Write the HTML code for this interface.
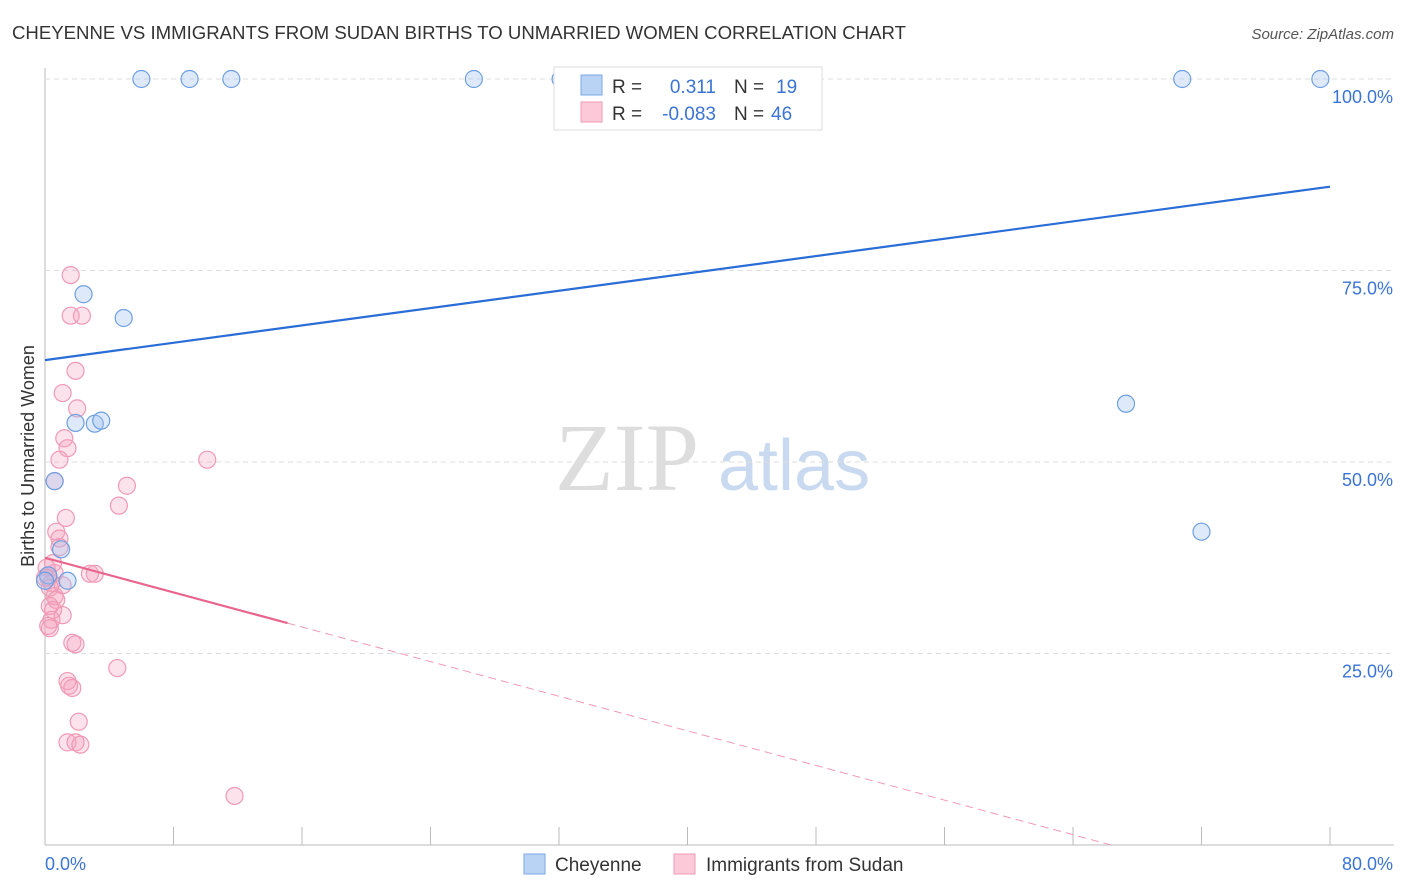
<!DOCTYPE html>
<html><head><meta charset="utf-8"><style>
body{margin:0;background:#fff;font-family:"Liberation Sans",sans-serif;}
svg{display:block}
</style></head><body>
<svg id="c" width="1406" height="892" xmlns="http://www.w3.org/2000/svg">
<text x="12" y="39" font-size="18.6" fill="#333">CHEYENNE VS IMMIGRANTS FROM SUDAN BIRTHS TO UNMARRIED WOMEN CORRELATION CHART</text>
<text x="1394" y="39" font-size="15" fill="#555" font-style="italic" text-anchor="end">Source: ZipAtlas.com</text>
<text x="34" y="456" font-size="18" fill="#333" text-anchor="middle" transform="rotate(-90 34 456)">Births to Unmarried Women</text>
<text x="555" y="490" font-size="96" fill="#ddd" font-family="Liberation Serif,serif">ZIP</text>
<text x="718" y="490" font-size="72" fill="#c9daf0">atlas</text>
<g id="grid"></g><g id="pts"></g><g id="lines"></g>
<g>
<rect x="554" y="67" width="268" height="63" fill="#fff" stroke="#ddd"/>
<rect x="581" y="75" width="21" height="20" fill="#b9d3f5" stroke="#7aa7e6"/>
<rect x="581" y="102" width="21" height="20" fill="#fcc9d8" stroke="#f09ab5"/>
<text x="612" y="93" font-size="19" fill="#333">R =</text>
<text x="716" y="93" font-size="19" fill="#3b74d4" text-anchor="end">0.311</text>
<text x="734" y="93" font-size="19" fill="#333">N =</text>
<text x="776" y="93" font-size="19" fill="#3b74d4">19</text>
<text x="612" y="120" font-size="19" fill="#333">R =</text>
<text x="716" y="120" font-size="19" fill="#3b74d4" text-anchor="end">-0.083</text>
<text x="734" y="120" font-size="19" fill="#333">N =</text>
<text x="771" y="120" font-size="19" fill="#3b74d4">46</text>
</g>
<g>
<rect x="524" y="854" width="21" height="20" fill="#b9d3f5" stroke="#7aa7e6"/>
<text x="555" y="871" font-size="19" fill="#333">Cheyenne</text>
<rect x="674" y="854" width="21" height="20" fill="#fcc9d8" stroke="#f09ab5"/>
<text x="706" y="871" font-size="19" fill="#333">Immigrants from Sudan</text>
</g>
</svg>
<script>
const yTicks=[25,50,75,100];
const yTickLabels=["25.0%","50.0%","75.0%","100.0%"];
const xTicks=[0,8,16,24,32,40,48,56,64,72,80];
const xEndLabels=["0.0%","80.0%"];
const cheyX=[6.0,9.0,11.6,26.7,32.1,70.8,79.4,2.4,4.9,1.9,3.1,3.5,0.6,1.0,1.4,67.3,72.0,0.2,0.0];
const cheyY=[100,100,100,100,100,100,100,71.9,68.8,55.1,55.0,55.4,47.5,38.6,34.5,57.6,40.9,35.2,34.5];
const sudX=[1.6,1.6,2.3,1.9,1.1,2.0,1.2,1.4,0.9,10.1,0.6,5.1,4.6,1.3,0.7,0.9,0.9,0.5,0.6,0.2,0.4,0.3,1.1,0.6,0.7,0.3,0.5,1.1,0.4,0.3,0.2,2.8,3.1,1.7,1.9,4.5,1.4,1.5,1.7,2.1,1.4,1.9,2.2,11.8,0.0,0.1];
const sudY=[74.4,69.1,69.1,61.9,59.0,57.0,53.1,51.8,50.3,50.3,47.5,46.9,44.3,42.7,40.9,40.0,38.9,36.8,35.5,34.9,34.2,33.6,33.9,32.5,32.0,31.2,30.7,30.0,29.4,28.3,28.6,35.4,35.4,26.4,26.2,23.1,21.4,20.8,20.5,16.1,13.4,13.4,13.1,6.4,34.9,36.2];
const trendInt=[63.3,37.5];
const trendSlope=[0.283,-0.565];
const sudSolidEnd=15.1;
const X=v=>45+v*1285/80, Y=v=>845-v*7.66;
const NS="http://www.w3.org/2000/svg";
function mk(p,t,a){const e=document.createElementNS(NS,t);for(const k in a)e.setAttribute(k,a[k]);p.appendChild(e);return e;}
const g=document.getElementById('grid');
let ax=mk(g,'line',{x1:45,y1:68,x2:45,y2:845,stroke:'#bbb'});


let bx=mk(g,'line',{x1:45,y1:845,x2:1394,y2:845,stroke:'#bbb'});


yTicks.forEach((t,i)=>{
 let l=mk(g,'line',{x1:45,y1:Y(t),x2:1394,y2:Y(t),stroke:'#ddd','stroke-dasharray':'5,4'});
 
 
 let tx=mk(g,'text',{x:1393,y:Y(t)+24,'font-size':18,fill:'#3b74d4','text-anchor':'end'});
 tx.textContent=yTickLabels[i];
 
 
});
xTicks.forEach(t=>{
 let l=mk(g,'line',{x1:X(t),y1:827,x2:X(t),y2:845,stroke:'#bbb'});
 
 
});
let xl0=mk(g,'text',{x:45,y:870,'font-size':18,fill:'#3b74d4'});xl0.textContent=xEndLabels[0];


let xl1=mk(g,'text',{x:1393,y:870,'font-size':18,fill:'#3b74d4','text-anchor':'end'});xl1.textContent=xEndLabels[1];


const P=document.getElementById('pts');
sudX.forEach((v,i)=>{
 let c=mk(P,'circle',{cx:X(v),cy:Y(sudY[i]),r:8.5,fill:'rgba(246,160,188,0.3)',stroke:'#f09ab5','stroke-width':1.2});
 
 
});
cheyX.forEach((v,i)=>{
 let c=mk(P,'circle',{cx:X(v),cy:Y(cheyY[i]),r:8.5,fill:'rgba(160,196,240,0.35)',stroke:'#6e9fe0','stroke-width':1.2});
 
 
});
const L=document.getElementById('lines');
let b=mk(L,'line',{x1:X(0),y1:Y(trendInt[0]),x2:X(80),y2:Y(trendInt[0]+trendSlope[0]*80),stroke:'#2a6dd6','stroke-width':2.2});


let p=mk(L,'line',{x1:X(0),y1:Y(trendInt[1]),x2:X(sudSolidEnd),y2:Y(trendInt[1]+trendSlope[1]*sudSolidEnd),stroke:'#e8668e','stroke-width':2.2});


const zx=-trendInt[1]/trendSlope[1];
let pd=mk(L,'line',{x1:X(sudSolidEnd),y1:Y(trendInt[1]+trendSlope[1]*sudSolidEnd),x2:X(zx),y2:Y(0),stroke:'#f09ab5','stroke-width':1,'stroke-dasharray':'8,5'});


</script>
</body></html>
